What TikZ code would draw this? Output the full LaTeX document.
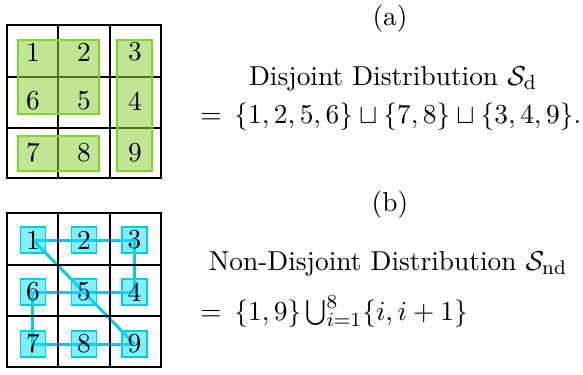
\documentclass[tikz,border=0pt]{standalone}
\usetikzlibrary{backgrounds}
\definecolor{gfill}{RGB}{140,210,60}
\definecolor{gdraw}{RGB}{130,210,40}
\definecolor{cfill}{RGB}{0,225,255}
\definecolor{cdraw}{RGB}{0,205,235}
\begin{document}
\begin{tikzpicture}[x=0.4pt,y=-0.4pt,
  every node/.style={font=\fontsize{10.95}{13.6}\selectfont},
  gridline/.style={line width=0.6pt,black},
  grect/.style={draw=gdraw,line width=0.5pt,fill=gfill,fill opacity=0.55},
  num/.style={inner sep=0pt},
  cbox/.style={draw=cdraw,line width=0.5pt,fill=cfill,fill opacity=0.5,text opacity=1,
    minimum width=10pt,minimum height=10.4pt,inner sep=0pt},
  cline/.style={cdraw,line width=1.2pt},
  txt/.style={anchor=base,inner sep=0pt}]
\useasboundingbox (0,0) rectangle (583,375);
% grid (a)
\draw[gridline] (7,25) rectangle (161,178);
\draw[gridline] (58,25) -- (58,178) (110,25) -- (110,178) (7,77) -- (161,77) (7,128) -- (161,128);
% groups
\draw[grect] (18,40) rectangle (99,114);
\draw[grect] (18,136) rectangle (99,171);
\draw[grect] (117,40) rectangle (152,171);
\node[num] (a1) at (33,52) {1};
\node[num] (a2) at (84,52) {2};
\node[num] (a3) at (135,52) {3};
\node[num] (a6) at (33,101) {6};
\node[num] (a5) at (84,101) {5};
\node[num] (a4) at (135,101) {4};
\node[num] (a7) at (33,153) {7};
\node[num] (a8) at (84,153) {8};
\node[num] (a9) at (135,153) {9};
% grid (b)
\draw[gridline] (7,213) rectangle (161,367);
\draw[gridline] (58,213) -- (58,367) (110,213) -- (110,367) (7,265) -- (161,265) (7,316) -- (161,316);
\node[cbox] (b1) at (33,240) {1};
\node[cbox] (b2) at (84,240) {2};
\node[cbox] (b3) at (134.5,240) {3};
\node[cbox] (b6) at (33,292) {6};
\node[cbox] (b5) at (84,292) {5};
\node[cbox] (b4) at (134.5,292) {4};
\node[cbox] (b7) at (33,344) {7};
\node[cbox] (b8) at (84,344) {8};
\node[cbox] (b9) at (134.5,344) {9};
\begin{pgfonlayer}{background}
\draw[cline] (b1.center) -- (b2.center) -- (b3.center) -- (b4.center) -- (b5.center) -- (b6.center) -- (b7.center) -- (b8.center) -- (b9.center);
\draw[cline] (b1.center) -- (b9.center);
\end{pgfonlayer}
% texts
\node[txt] (ta) at (390,25) {(a)};
\node[txt] (tda) at (393,85) {Disjoint Distribution $\mathcal{S}_\mathrm{d}$};
\node[txt,anchor=base west] (tea) at (200,123) {$=\kern2pt\{1,2,5,6\}\sqcup\{7,8\}\sqcup\{3,4,9\}.$};
\node[txt] (tb) at (390,211) {(b)};
\node[txt] (tdb) at (388,270) {Non-Disjoint Distribution $\mathcal{S}_\mathrm{nd}$};
\node[txt,anchor=base west] (teb) at (200,320) {$=\kern2pt\{1,9\}\bigcup_{i=1}^{8}\{i,i+1\}$};
\end{tikzpicture}
\end{document}
